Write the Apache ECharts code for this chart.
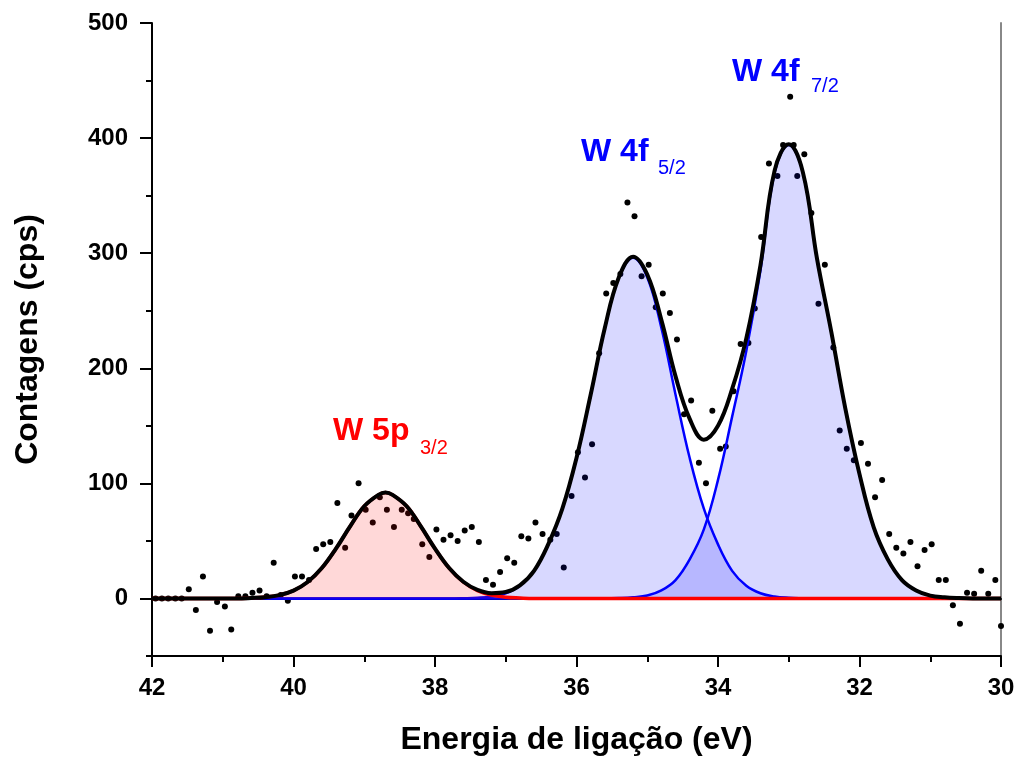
<!DOCTYPE html>
<html>
<head>
<meta charset="utf-8">
<script src="https://cdn.jsdelivr.net/npm/echarts@6/dist/echarts.min.js"></script>
<style>
  html, body { margin: 0; padding: 0; background: #fff; }
  #chart { width: 1018px; height: 758px; }
</style>
</head>
<body>
<div id="chart"></div>
<script>
// measured points (binding energy eV, counts)
const pointEnergy = [41.95, 41.86, 41.77, 41.67, 41.58, 41.48, 41.38, 41.28, 41.18, 41.08, 40.97, 40.88, 40.78, 40.68, 40.58, 40.48, 40.38, 40.28, 40.18, 40.08,
  39.98, 39.88, 39.78, 39.68, 39.58, 39.48, 39.38, 39.27, 39.18, 39.08, 38.98, 38.88, 38.78, 38.68, 38.58, 38.47, 38.38, 38.30, 38.18, 38.08,
  37.98, 37.88, 37.78, 37.68, 37.58, 37.48, 37.38, 37.28, 37.18, 37.08, 36.98, 36.88, 36.78, 36.68, 36.58, 36.48, 36.37, 36.28, 36.18, 36.07,
  35.98, 35.88, 35.78, 35.68, 35.58, 35.48, 35.38, 35.28, 35.18, 35.08, 34.98, 34.88, 34.78, 34.68, 34.58, 34.48, 34.38, 34.27, 34.17, 34.08,
  33.97, 33.89, 33.78, 33.68, 33.57, 33.48, 33.39, 33.28, 33.16, 33.08, 32.98, 32.93, 32.88, 32.78, 32.68, 32.58, 32.49, 32.37, 32.28, 32.18,
  32.08, 31.98, 31.88, 31.78, 31.68, 31.58, 31.48, 31.38, 31.28, 31.18, 31.08, 30.98, 30.88, 30.78, 30.68, 30.58, 30.48, 30.38, 30.28, 30.18,
  30.08, 30.0];
const pointCounts = [0, 0, 0, 0, 0, 8, -10, 19, -28, -3, -7, -27, 2, 2, 5, 7, 2, 31, 3, -2,
  19, 19, 16, 43, 47, 49, 83, 44, 72, 100, 77, 66, 88, 77, 62, 77, 74, 69, 47, 36,
  60, 51, 55, 50, 59, 62, 49, 16, 12, 23, 35, 31, 54, 52, 66, 56, 51, 56, 27, 89,
  127, 105, 134, 213, 265, 274, 282, 344, 332, 280, 290, 253, 265, 248, 225, 160, 172, 118, 100, 163,
  130, 132, 180, 221, 222, 252, 314, 378, 367, 394, 436, 394, 367, 386, 335, 256, 290, 218, 146, 130,
  120, 135, 117, 88, 103, 56, 44, 39, 49, 28, 42, 47, 16, 16, -6, -22, 5, 4, 24, 4,
  16, -24];

// fitted curves, read every 0.2 eV (plus the W 5p maximum)
const fitEnergy = [42, 41.8, 41.6, 41.4, 41.2, 41, 40.8, 40.6, 40.4, 40.2, 40, 39.8, 39.6, 39.4, 39.2, 39, 38.8, 38.7, 38.6, 38.4, 38.2,
  38, 37.8, 37.6, 37.4, 37.2, 37, 36.8, 36.6, 36.4, 36.2, 36, 35.8, 35.6, 35.4, 35.2, 35, 34.8, 34.6, 34.4, 34.2,
  34, 33.8, 33.6, 33.4, 33.2, 33, 32.8, 32.6, 32.4, 32.2, 32, 31.8, 31.6, 31.4, 31.2, 31, 30.8, 30.6, 30.4, 30.2, 30];
const fitW5p32 = [0, 0, 0, 0, 0, 0, 0, 0.4, 1.1, 2.9, 6.8, 14.3, 26.4, 43.3, 62.6, 80.1, 90, 92, 90, 80.1, 62.6,
  43.3, 26.4, 14.3, 6.8, 2.9, 1.1, 0.4, 0, 0, 0, 0, 0, 0, 0, 0, 0, 0, 0, 0, 0,
  0, 0, 0, 0, 0, 0, 0, 0, 0, 0, 0, 0, 0, 0, 0, 0, 0, 0, 0, 0, 0];
const fitW4f52 = [0, 0, 0, 0, 0, 0, 0, 0, 0, 0, 0, 0, 0, 0, 0, 0, 0, 0, 0, 0, 0,
  0, 0, 0.2, 0.6, 1.7, 4.5, 11, 24, 47, 78, 122, 177, 235, 279, 296, 279, 235, 177, 122, 78,
  47, 24, 11, 4.5, 1.7, 0.6, 0.2, 0, 0, 0, 0, 0, 0, 0, 0, 0, 0, 0, 0, 0, 0];
const fitW4f72 = [0, 0, 0, 0, 0, 0, 0, 0, 0, 0, 0, 0, 0, 0, 0, 0, 0, 0, 0, 0, 0,
  0, 0, 0, 0, 0, 0, 0, 0, 0, 0, 0, 0, 0, 0.3, 1, 2.5, 7, 16, 34, 60,
  103, 158, 215, 285, 370, 394, 370, 295, 232, 165, 108, 62, 34, 16, 7, 2.5, 1, 0.3, 0, 0, 0];
const fitEnvelope = [0, 0, 0, 0, 0, 0, 0, 0.4, 1.1, 2.9, 6.8, 14.3, 26.4, 43.3, 62.6, 80.1, 90, 92, 90, 80.1, 62.6,
  43.3, 26.4, 14.5, 7.4, 4.6, 5.6, 11.4, 24, 47, 78, 122, 177, 235, 279.3, 297, 281.5, 242, 193, 156, 138,
  150, 182, 226, 289.5, 371.7, 394.6, 370.2, 295, 232, 165, 108, 62, 34, 16, 7, 2.5, 1, 0.3, 0, 0, 0];

const xMajorTicks = [30, 32, 34, 36, 38, 40, 42];
const yMajorTicks = [0, 100, 200, 300, 400, 500];
const yMinorTicks = [-50, 50, 150, 250, 350, 450];

const FONT = '"Liberation Sans", Arial, sans-serif';

const pairs = (xs, ys) => xs.map((x, i) => [x, ys[i]]);

const chart = echarts.init(document.getElementById('chart'), null, { renderer: 'canvas' });

const fitLine = (name, values, color, width, fill, z) => ({
  name,
  type: 'line',
  data: pairs(fitEnergy, values),
  smooth: 0.4,
  showSymbol: false,
  symbol: 'none',
  z,
  lineStyle: { color, width },
  areaStyle: fill ? { color: fill, origin: 0 } : undefined,
  animation: false,
});

chart.setOption({
  animation: false,
  grid: { left: 152, right: 17, top: 23, bottom: 102, outerBoundsMode: 'none' },
  xAxis: [
    {
      type: 'value',
      inverse: true,
      min: 30,
      max: 42,
      interval: 2,
      name: 'Energia de ligação (eV)',
      nameLocation: 'middle',
      nameGap: 68,
      nameTextStyle: { fontFamily: FONT, fontWeight: 'bold', fontSize: 32, color: '#000' },
      axisLine: { onZero: false, lineStyle: { color: '#000', width: 2 } },
      axisTick: { length: 11, lineStyle: { color: '#000', width: 2 } },
      minorTick: { show: true, splitNumber: 2, length: 6, lineStyle: { color: '#000', width: 2 } },
      axisLabel: { customValues: xMajorTicks, margin: 20, fontFamily: FONT, fontWeight: 'bold', fontSize: 24, color: '#000' },
      splitLine: { show: false },
    },
    {
      type: 'value',
      position: 'top',
      min: 30,
      max: 42,
      axisLine: { lineStyle: { color: '#000', width: 2 } },
      axisTick: { show: false },
      axisLabel: { show: false },
      splitLine: { show: false },
    },
  ],
  yAxis: [
    {
      type: 'value',
      min: -50,
      max: 500,
      name: 'Contagens (cps)',
      nameLocation: 'middle',
      nameGap: 108,
      nameTextStyle: { fontFamily: FONT, fontWeight: 'bold', fontSize: 32, color: '#000' },
      axisLine: { onZero: false, lineStyle: { color: '#000', width: 2 } },
      axisTick: { customValues: yMajorTicks, length: 12, lineStyle: { color: '#000', width: 2 } },
      axisLabel: { customValues: yMajorTicks, margin: 24, fontFamily: FONT, fontWeight: 'bold', fontSize: 24, color: '#000' },
      splitLine: { show: false },
    },
    {
      type: 'value',
      min: -50,
      max: 500,
      position: 'left',
      axisLine: { show: false },
      axisTick: { show: true, customValues: yMinorTicks, length: 6, lineStyle: { color: '#000', width: 2 } },
      axisLabel: { show: false },
      splitLine: { show: false },
    },
    {
      type: 'value',
      min: -50,
      max: 500,
      position: 'right',
      axisLine: { show: true, lineStyle: { color: '#888', width: 2 } },
      axisTick: { show: false },
      axisLabel: { show: false },
      splitLine: { show: false },
    },
  ],
  series: [
    {
      name: 'dados',
      type: 'scatter',
      data: pairs(pointEnergy, pointCounts),
      symbolSize: 6,
      itemStyle: { color: '#000', opacity: 1 },
      z: 1,
      animation: false,
    },
    fitLine('W 4f 5/2', fitW4f52, '#0000ff', 2.5, 'rgba(0,0,255,0.22)', 2),
    fitLine('W 4f 7/2', fitW4f72, '#0000ff', 2.5, 'rgba(0,0,255,0.22)', 2),
    fitLine('W 5p 3/2', fitW5p32, '#ff0000', 3.5, 'rgba(255,0,0,0.22)', 3),
    fitLine('envelope', fitEnvelope, '#000', 4, null, 4),
  ],
  graphic: [
    { type: 'text', x: 333, y: 431, style: { text: 'W 5p', font: 'bold 32px ' + FONT, fill: '#ff0000', verticalAlign: 'middle' } },
    { type: 'text', x: 420, y: 448, style: { text: '3/2', font: '20px ' + FONT, fill: '#ff0000', verticalAlign: 'middle' } },
    { type: 'text', x: 581, y: 152, style: { text: 'W 4f', font: 'bold 32px ' + FONT, fill: '#0000ff', verticalAlign: 'middle' } },
    { type: 'text', x: 658, y: 168, style: { text: '5/2', font: '20px ' + FONT, fill: '#0000ff', verticalAlign: 'middle' } },
    { type: 'text', x: 732, y: 72, style: { text: 'W 4f', font: 'bold 32px ' + FONT, fill: '#0000ff', verticalAlign: 'middle' } },
    { type: 'text', x: 811, y: 86, style: { text: '7/2', font: '20px ' + FONT, fill: '#0000ff', verticalAlign: 'middle' } },
  ],
});
</script>
</body>
</html>
